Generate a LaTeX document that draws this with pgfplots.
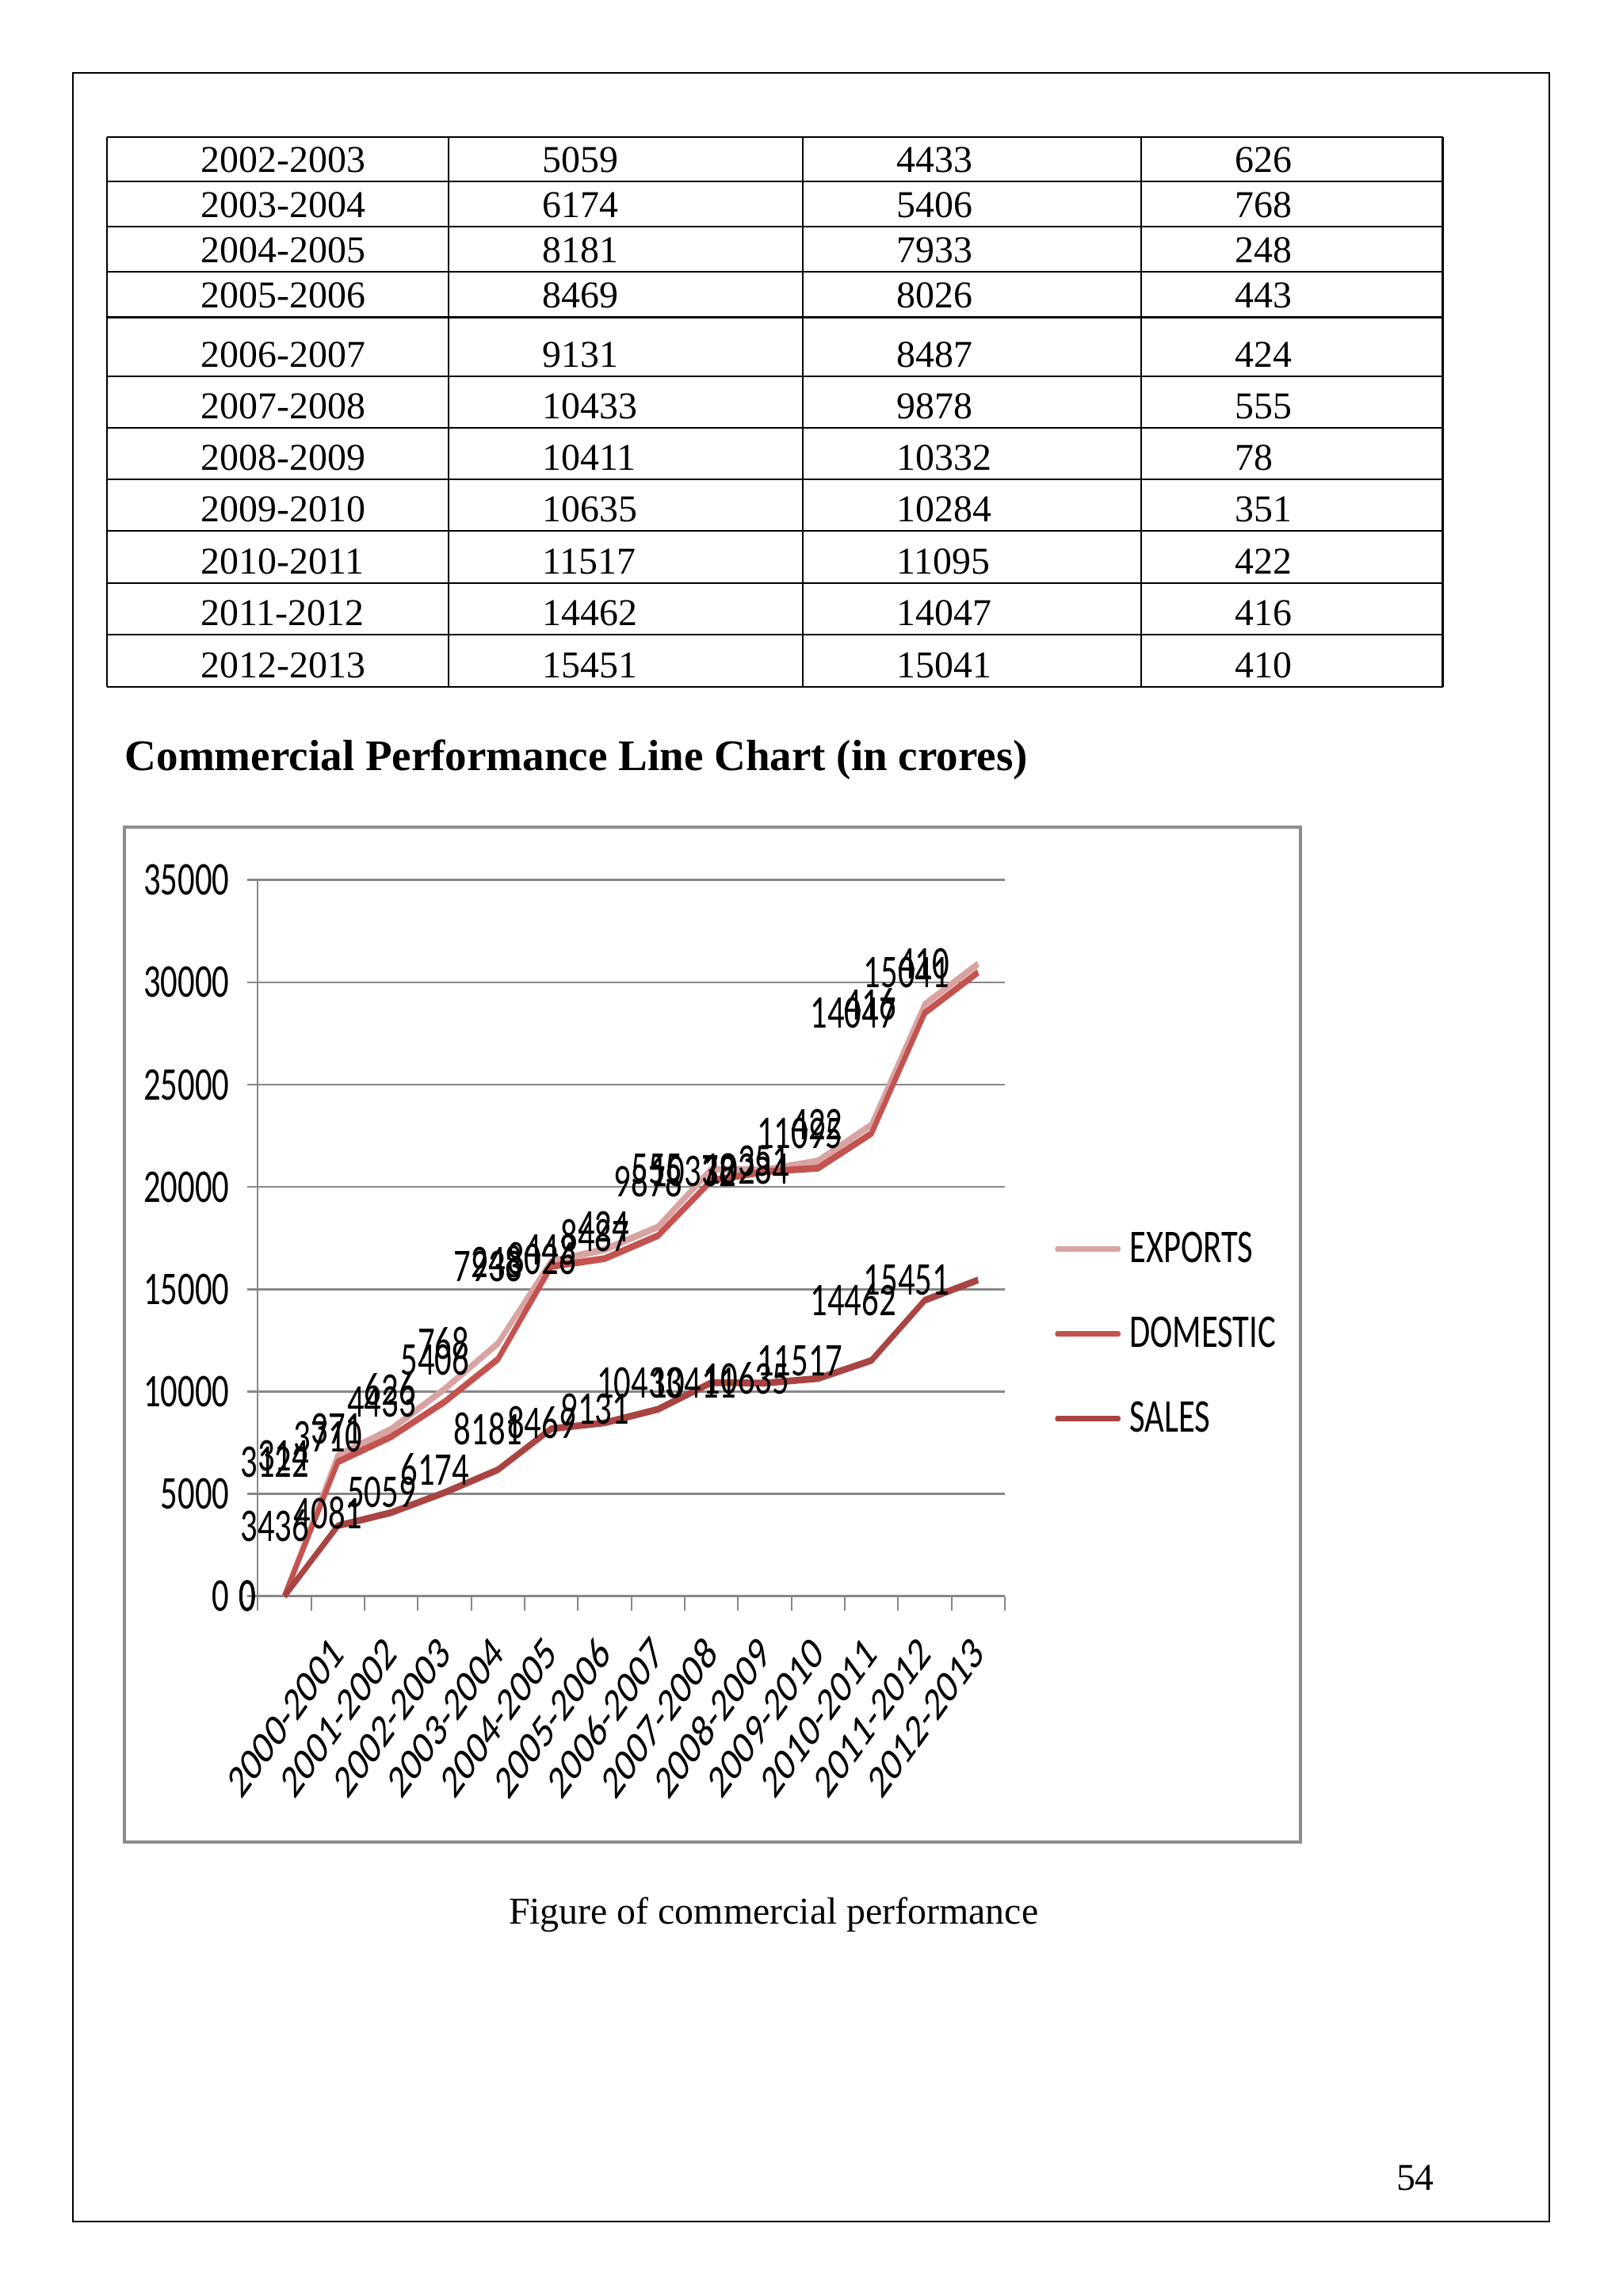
\documentclass[border=0pt]{standalone}
\usepackage{pgfplots}
\pgfplotsset{compat=1.18}
\usepackage{pgfplotstable}
\usepackage{fontspec}
\setmainfont{Liberation Serif}
\newfontfamily\chartfont{Carlito}
\definecolor{expc}{HTML}{D9A3A2}
\definecolor{domc}{HTML}{C4524F}
\definecolor{salc}{HTML}{A94442}
\definecolor{gridc}{HTML}{878787}
\definecolor{framec}{HTML}{8C8C8C}
\newcommand\cf{\chartfont\fontsize{17.2}{20}\selectfont}
\newcommand\tf{\fontsize{13.9}{16}\selectfont}

\pgfplotstableread{
x sales domestic exports
0 0 0 0
1 3436 3122 314
2 4081 3710 371
3 5059 4433 626
4 6174 5406 768
5 8181 7933 248
6 8469 8026 443
7 9131 8487 424
8 10433 9878 555
9 10411 10332 78
10 10635 10284 351
11 11517 11095 422
12 14462 14047 416
13 15451 15041 410
}\comdata

\begin{document}
\begin{tikzpicture}
\begin{scope}[x=0.537pt,y=-0.537pt]
  % page border
  \draw[line width=0.6pt] (50,50) rectangle (1058,1517);
  % table grid
  \foreach \yy in {93.5,124.1,155.0,185.8,216.7,256.9,292.2,327.5,362.7,398.3,433.6,469.1}
    {\draw[line width=0.6pt] (73,\yy) -- (985,\yy);}
  \foreach \xx in {73,306,548,779,985}
    {\draw[line width=0.6pt] (\xx,93.5) -- (\xx,469.1);}
  % table text
  \foreach \a/\b/\c/\d/\yb in {
    2002-2003/5059/4433/626/117.8,
    2003-2004/6174/5406/768/148.7,
    2004-2005/8181/7933/248/179.5,
    2005-2006/8469/8026/443/210.4,
    2006-2007/9131/8487/424/250.6,
    2007-2008/10433/9878/555/285.9,
    2008-2009/10411/10332/78/321.2,
    2009-2010/10635/10284/351/356.4,
    2010-2011/11517/11095/422/392.0,
    2011-2012/14462/14047/416/427.3,
    2012-2013/15451/15041/410/462.8}
  {
    \node[anchor=base west, inner sep=0pt, font=\tf] at (137,\yb) {\a};
    \node[anchor=base west, inner sep=0pt, font=\tf] at (370,\yb) {\b};
    \node[anchor=base west, inner sep=0pt, font=\tf] at (612,\yb) {\c};
    \node[anchor=base west, inner sep=0pt, font=\tf] at (843,\yb) {\d};
  }
  % title
  \node[anchor=base west, inner sep=0pt, font=\fontsize{16}{19}\selectfont\bfseries] at (85,526) {Commercial Performance Line Chart (in crores)};
  % chart frame
  \draw[framec, line width=1.1pt] (85,565) rectangle (888,1258);
  % caption and page number
  \node[anchor=base west, inner sep=0pt, font=\tf] at (347,1314) {Figure of commercial performance};
  \node[anchor=base west, inner sep=0pt, font=\tf] at (953,1496) {54};
\end{scope}

\begin{scope}[transform canvas={xscale=0.72}]
\begin{axis}[
  at={(131.27pt,-585.33pt)}, anchor=south west,
  scale only axis, width=380.4pt, height=262.6pt,
  xmin=-0.5, xmax=13.5, ymin=0, ymax=35000,
  clip=false,
  scaled x ticks=false, scaled y ticks=false,
  axis lines*=left,
  axis line style={gridc, line width=0.8pt},
  ymajorgrids, grid style={gridc, line width=0.8pt},
  ytick={0,5000,...,35000},
  yticklabels={0,5000,10000,15000,20000,25000,30000,35000},
  yticklabel style={font=\cf, anchor=east, inner sep=0pt},
  yticklabel shift=9pt,
  tick align=outside,
  major tick length=5.3pt,
  tick style={gridc, line width=0.8pt},
  xtick={-0.5,0.5,...,13.5},
  xticklabel={\relax},
  extra x ticks={1,2,3,4,5,6,7,8,9,10,11,12,13},
  extra x tick labels={2000-2001,2001-2002,2002-2003,2003-2004,2004-2005,2005-2006,2006-2007,2007-2008,2008-2009,2009-2010,2010-2011,2011-2012,2012-2013},
  extra x tick style={major tick length=0pt},
  xticklabel style={font=\cf, rotate=45, anchor=east, inner sep=0pt},
  xticklabel shift=17.9pt,
  stack plots=y,
  point meta=explicit symbolic,
  nodes near coords,
  nodes near coords style={font=\cf, anchor=east, inner sep=0pt, xshift=-13.4pt, text=black},
  legend style={draw=none, fill=none, at={(1.0667,0.366)}, anchor=west, inner sep=0pt,
    row sep=0pt, column sep=4.5pt, font=\cf, nodes={inner sep=0pt, minimum height=31.1pt}},
  legend cell align=left,
  reverse legend,
  legend image code/.code={\draw[#1, line cap=round, line width=2.1pt] (0pt,0pt) -- (31.3pt,0pt);},
  every axis plot/.append style={line join=round},
]
\addplot[salc, line width=2.5pt] table[x=x, y=sales, meta=sales] {\comdata};
\addlegendentry{SALES}
\addplot[domc, line width=2.5pt] table[x=x, y=domestic, meta=domestic] {\comdata};
\addlegendentry{DOMESTIC}
\addplot[expc, line width=2.5pt] table[x=x, y=exports, meta=exports] {\comdata};
\addlegendentry{EXPORTS}
\end{axis}
\end{scope}
\pgfresetboundingbox
\path[use as bounding box] (0pt,0pt) rectangle (595pt,-842.02pt);
\end{tikzpicture}
\end{document}
